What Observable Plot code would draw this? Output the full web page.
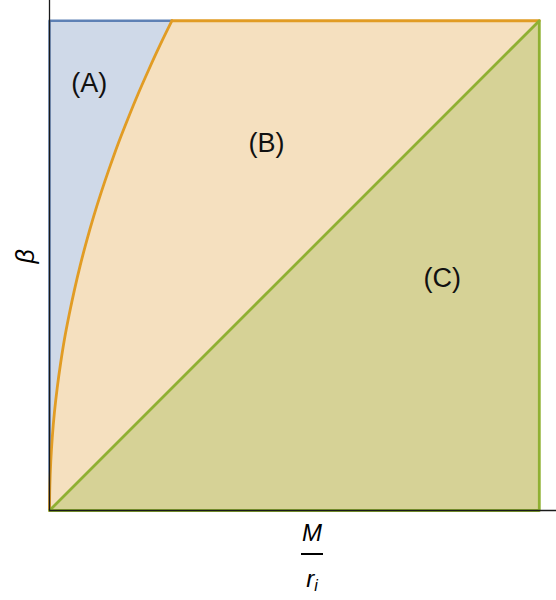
<!DOCTYPE html>
<html>
<head>
<meta charset="utf-8">
<script src="https://cdn.jsdelivr.net/npm/d3@7"></script>
<script src="https://cdn.jsdelivr.net/npm/@observablehq/plot@0.6"></script>
<style>
  html, body { margin: 0; padding: 0; background: #fff; }
  #wrap { position: relative; width: 556px; height: 600px; font-family: "Liberation Sans", Arial, sans-serif; }
  #frac { position: absolute; left: 291px; top: 517px; width: 42px; text-align: center; font-style: italic; font-size: 24px; line-height: 1; color: #000; }
  #frac .num { display: block; padding-top: 4px; padding-bottom: 8px; border-bottom: 2px solid #000; margin: 0 auto; width: 22px; }
  #frac .den { display: block; padding-top: 12px; }
  #frac sub { font-size: 16px; vertical-align: -4px; }
</style>
</head>
<body>
<div id="wrap"></div>
<script>
// Boundary curve between regions A and B (x = M/r_i scaled, y = β scaled)
const curveX = [0, 0.0007, 0.0026, 0.0057, 0.0100, 0.0157, 0.0226, 0.0306, 0.0402, 0.0508, 0.0626, 0.0757, 0.0900, 0.1057, 0.1226, 0.1405, 0.1601, 0.1806, 0.2026, 0.2256, 0.2500];
const curveY = [0, 0.05, 0.10, 0.15, 0.20, 0.25, 0.30, 0.35, 0.40, 0.45, 0.50, 0.55, 0.60, 0.65, 0.70, 0.75, 0.80, 0.85, 0.90, 0.95, 1.00];
// Diagonal boundary between B and C
const diagX = [0, 1];
const diagY = [0, 1];
// Region labels
const labelText = ["(A)", "(B)", "(C)"];
const labelX = [0.081, 0.443, 0.802];
const labelY = [0.872, 0.749, 0.474];

const curve = curveX.map((x, i) => ({x, y: curveY[i]}));
const diag = diagX.map((x, i) => ({x, y: diagY[i]}));
const labels = labelText.map((t, i) => ({t, x: labelX[i], y: labelY[i]}));

const blueLine = "#5e81b5", orangeLine = "#e19c24", greenLine = "#8fb032";
const blueFill = "#cfd9e8", orangeFill = "#f5e0bf", greenFill = "#d6d296";

const topY = curveY[curveY.length - 1];
const rightX = diagX[diagX.length - 1];
const curveTopX = curveX[curveX.length - 1];

const chart = Plot.plot({
  width: 556,
  height: 515,
  marginTop: 0,
  marginBottom: 5,
  marginLeft: 49,
  marginRight: 0,
  x: {domain: [0, 1.0351], axis: null},
  y: {domain: [0, 1.0413], axis: null},
  style: {fontFamily: "'Liberation Sans', Arial, sans-serif", background: "transparent"},
  marks: [
    // Region A: between left edge and curve
    Plot.areaX(curve, {y: "y", x1: 0, x2: "x", fill: blueFill, curve: "catmull-rom"}),
    // Region B: between curve and diagonal
    Plot.areaX(curve, {y: "y", x1: "x", x2: "y", fill: orangeFill, curve: "catmull-rom"}),
    // Region C: below diagonal
    Plot.areaY(diag, {x: "x", y1: 0, y2: "y", fill: greenFill}),
    // Boundaries
    Plot.line([{x: 0, y: 0}, {x: 0, y: topY}, {x: curveTopX, y: topY}], {x: "x", y: "y", stroke: blueLine, strokeWidth: 2.4}),
    Plot.line(curve, {x: "x", y: "y", stroke: orangeLine, strokeWidth: 2.8, curve: "catmull-rom"}),
    Plot.line([{x: curveTopX, y: topY}, {x: rightX, y: topY}], {x: "x", y: "y", stroke: orangeLine, strokeWidth: 2.8}),
    Plot.line([{x: 0, y: 0}, {x: rightX, y: topY}, {x: rightX, y: 0}, {x: 0, y: 0}], {x: "x", y: "y", stroke: greenLine, strokeWidth: 2.8}),
    // Axes
    Plot.ruleX([0], {stroke: "#1a1a1a", strokeWidth: 1.3}),
    Plot.ruleY([0], {stroke: "#1a1a1a", strokeWidth: 1.3}),
    // Labels
    Plot.text(labels, {x: "x", y: "y", text: "t", fontSize: 27, fill: "#111", textAnchor: "middle", lineAnchor: "middle"}),
    // y-axis label
    Plot.text(["β"], {frameAnchor: "left", dx: -24, dy: 8, text: d => d, rotate: -90, fontSize: 25, fontStyle: "italic", fill: "#000"})
  ]
});

const wrap = document.getElementById("wrap");
wrap.appendChild(chart);
const frac = document.createElement("div");
frac.id = "frac";
frac.innerHTML = '<span class="num">M</span><span class="den">r<sub>i</sub></span>';
wrap.appendChild(frac);
</script>
</body>
</html>
